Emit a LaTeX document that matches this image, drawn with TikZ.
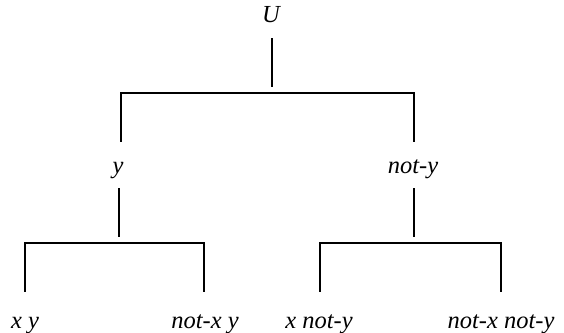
\documentclass[tikz,border=0pt]{standalone}
\usepackage{fontspec}
\setmainfont{Liberation Serif}
\begin{document}
\begin{tikzpicture}[x=1pt, y=-1pt,
    leaf/.style={font=\fontsize{24.5}{28}\selectfont\itshape, inner sep=0pt,
        text height=14pt, text depth=5pt, anchor=base},
    branch/.style={line width=1.5pt}]
    \useasboundingbox (0,0) rectangle (564,332);

    % Levels of the bars
    \coordinate (topbar) at (0,93);
    \coordinate (ybar) at (0,243);

    % Labels
    \node[leaf] (U) at (271,22) {U};
    \node[leaf] (y) at (118,173) {y};
    \node[leaf] (noty) at (413,173) {not-y};
    \node[leaf] (xy) at (25,328) {x y};
    \node[leaf] (notxy) at (205,328) {not-x y};
    \node[leaf] (xnoty) at (319,328) {x not-y};
    \node[leaf] (notxnoty) at (501,328) {not-x not-y};

    % Root split
    \draw[branch, shorten >=6pt] ([xshift=1pt, yshift=-11pt]U.south) -- ([xshift=1pt]U.south |- topbar);
    \draw[branch] ([xshift=3pt, yshift=17pt]y.north) -- ([xshift=3pt]y.north |- topbar)
        -- ([xshift=1pt]noty.north |- topbar) -- ([xshift=1pt, yshift=17pt]noty.north);

    % Split under y
    \draw[branch, shorten >=6pt] ([xshift=1pt, yshift=-10pt]y.south) -- ([xshift=1pt]y.south |- ybar);
    \draw[branch] ([yshift=22pt]xy.north) -- (xy.north |- ybar)
        -- ([xshift=-1pt]notxy.north |- ybar) -- ([xshift=-1pt, yshift=22pt]notxy.north);

    % Split under not-y
    \draw[branch, shorten >=6pt] ([xshift=1pt, yshift=-10pt]noty.south) -- ([xshift=1pt]noty.south |- ybar);
    \draw[branch] ([xshift=1pt, yshift=22pt]xnoty.north) -- ([xshift=1pt]xnoty.north |- ybar)
        -- (notxnoty.north |- ybar) -- ([yshift=22pt]notxnoty.north);
\end{tikzpicture}
\end{document}
